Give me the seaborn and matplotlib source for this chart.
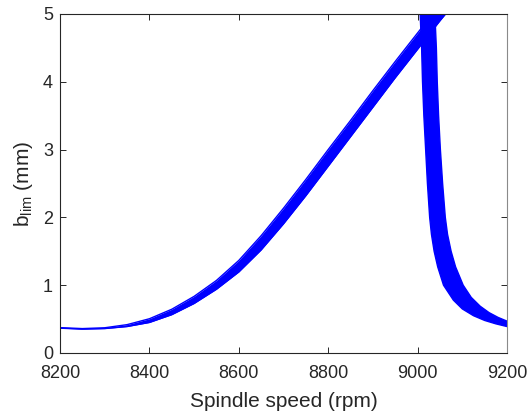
import numpy as np
import pandas as pd
import matplotlib
matplotlib.use("Agg")
import matplotlib.pyplot as plt
import seaborn as sns

# Rising lobe branch: spindle speed (rpm) with upper and lower band edges (mm)
rise_rpm = [8200, 8250, 8300, 8350, 8400, 8450, 8500, 8550, 8600, 8650,
            8700, 8750, 8800, 8850, 8900, 8950, 9000, 9050, 9080]
rise_hi = [0.374, 0.360, 0.372, 0.418, 0.505, 0.645, 0.835, 1.070, 1.365, 1.730,
           2.135, 2.560, 3.000, 3.430, 3.870, 4.300, 4.720, 5.14, 5.38]
rise_lo = [0.366, 0.352, 0.360, 0.390, 0.450, 0.565, 0.730, 0.940, 1.195, 1.520,
           1.905, 2.320, 2.755, 3.190, 3.625, 4.060, 4.480, 4.90, 5.14]

# Falling lobe branch: lower-left edge and upper-right edge (rpm, mm)
fall_left_rpm = [9005, 9009, 9011, 9014, 9018, 9022, 9027, 9031, 9037, 9045, 9058, 9080,
                 9100, 9125, 9150, 9175, 9200]
fall_left_b = [5.10, 4.50, 4.00, 3.50, 3.00, 2.50, 2.00, 1.75, 1.50, 1.27, 1.00, 0.78,
               0.65, 0.55, 0.48, 0.43, 0.39]
fall_right_rpm = [9038, 9042, 9044, 9047, 9051, 9056, 9062, 9067, 9075, 9085, 9102, 9120,
                  9140, 9160, 9180, 9200]
fall_right_b = [5.10, 4.50, 4.00, 3.50, 3.00, 2.50, 2.00, 1.75, 1.50, 1.27, 1.00, 0.82,
                0.69, 0.595, 0.525, 0.47]

x_ticks = [8200, 8400, 8600, 8800, 9000, 9200]
y_ticks = [0, 1, 2, 3, 4, 5]

sns.set_style("ticks")
plt.rcParams['font.family'] = ['Liberation Sans', 'DejaVu Sans']
plt.rcParams['mathtext.fontset'] = 'custom'
plt.rcParams['mathtext.rm'] = 'Liberation Sans'

dark = '#262626'
blue = (0, 0, 1)

fig = plt.figure(figsize=(5.29, 4.17), dpi=100)
ax = fig.add_axes([0.1134, 0.1535, 0.845, 0.813])

# rising branch band
ax.fill_between(rise_rpm, rise_lo, rise_hi, color=blue, lw=0)
df_hi = pd.DataFrame({'rpm': rise_rpm, 'b': rise_hi})
df_lo = pd.DataFrame({'rpm': rise_rpm, 'b': rise_lo})
sns.lineplot(data=df_hi, x='rpm', y='b', ax=ax, color=blue, lw=1.0, sort=False)
sns.lineplot(data=df_lo, x='rpm', y='b', ax=ax, color=blue, lw=1.0, sort=False)

# falling branch band
poly_x = list(fall_left_rpm) + list(fall_right_rpm[::-1])
poly_y = list(fall_left_b) + list(fall_right_b[::-1])
ax.fill(poly_x, poly_y, color=blue, lw=0)
df_fl = pd.DataFrame({'rpm': fall_left_rpm, 'b': fall_left_b})
df_fr = pd.DataFrame({'rpm': fall_right_rpm, 'b': fall_right_b})
sns.lineplot(data=df_fl, x='rpm', y='b', ax=ax, color=blue, lw=1.0, sort=False)
sns.lineplot(data=df_fr, x='rpm', y='b', ax=ax, color=blue, lw=1.0, sort=False)

ax.set_xlim(8200, 9200)
ax.set_ylim(0, 5)
ax.set_xticks(x_ticks)
ax.set_yticks(y_ticks)
ax.tick_params(direction='in', length=4, width=0.7, colors=dark, labelsize=13,
               top=True, right=True, pad=5)
ax.tick_params(axis='x', pad=9)
for s in ax.spines.values():
    s.set_color(dark)
    s.set_linewidth(0.8)
ax.spines['right'].set_color('#8a8a8a')

ax.set_xlabel('Spindle speed (rpm)', fontsize=15, color=dark, labelpad=7)
ax.set_ylabel(r'$\mathregular{b_{lim}}$ (mm)', fontsize=15, color=dark, labelpad=6)

fig.savefig('out.png', dpi=100)
